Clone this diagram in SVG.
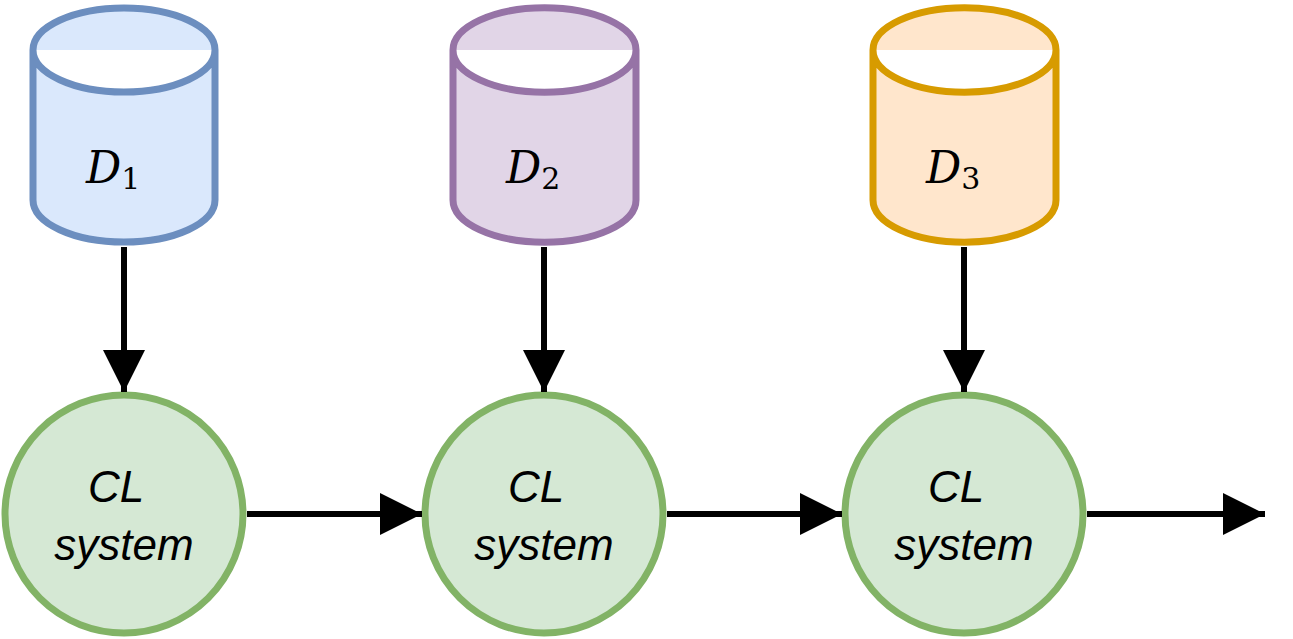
<svg xmlns="http://www.w3.org/2000/svg" width="1293" height="639" viewBox="0 0 1293 639">
<style>
.cyl{stroke-width:7}
.c{fill:#d5e8d4;stroke:#82b366;stroke-width:7}
.d{font-family:"DejaVu Serif","Liberation Serif",serif;font-style:italic;font-size:44px}
.s{font-family:"DejaVu Serif","Liberation Serif",serif;font-size:30px}
.t{font-family:"Liberation Sans",Arial,sans-serif;font-style:italic;font-size:44px;text-anchor:middle}
.e{stroke:#000;stroke-width:6;fill:none}
</style>
<defs>
<marker id="a" viewBox="0 0 10 10" refX="10" refY="5" markerWidth="7" markerHeight="7" markerUnits="strokeWidth" orient="auto"><path d="M0,0 L10,5 L0,10 Z" fill="#000"/></marker>
</defs>
<g id="D1">
<path class="cyl" fill="#dae8fc" stroke="#6c8ebf" d="M33,50 A91,42 0 0 1 215,50 V200 A91,42 0 0 1 33,200 Z M33,50 A91,42 0 0 0 215,50"/>
<text class="d" x="86" y="183">D<tspan class="s" font-style="normal" dy="6">1</tspan></text>
</g>
<g id="D2">
<path class="cyl" fill="#e1d5e7" stroke="#9673a6" d="M453,50 A91,42 0 0 1 636,50 V200 A91,42 0 0 1 453,200 Z M453,50 A91,42 0 0 0 636,50"/>
<text class="d" x="506" y="183">D<tspan class="s" font-style="normal" dy="6">2</tspan></text>
</g>
<g id="D3">
<path class="cyl" fill="#ffe6cc" stroke="#d79b00" d="M873,50 A91,42 0 0 1 1056,50 V200 A91,42 0 0 1 873,200 Z M873,50 A91,42 0 0 0 1056,50"/>
<text class="d" x="926" y="183">D<tspan class="s" font-style="normal" dy="6">3</tspan></text>
</g>
<g id="CL1"><circle class="c" cx="124" cy="514" r="119"/><text class="t" x="116" y="502">CL</text><text class="t" x="124" y="560">system</text></g>
<g id="CL2"><circle class="c" cx="544" cy="514" r="119"/><text class="t" x="536" y="502">CL</text><text class="t" x="544" y="560">system</text></g>
<g id="CL3"><circle class="c" cx="964" cy="514" r="119"/><text class="t" x="956" y="502">CL</text><text class="t" x="964" y="560">system</text></g>
<g id="connectors">
<path class="e" marker-end="url(#a)" d="M124,247 V392"/>
<path class="e" marker-end="url(#a)" d="M544,247 V392"/>
<path class="e" marker-end="url(#a)" d="M964,247 V392"/>
<path class="e" marker-end="url(#a)" d="M247,514 H422"/>
<path class="e" marker-end="url(#a)" d="M667,514 H842"/>
<path class="e" marker-end="url(#a)" d="M1087,514 H1265"/>
</g>
</svg>
